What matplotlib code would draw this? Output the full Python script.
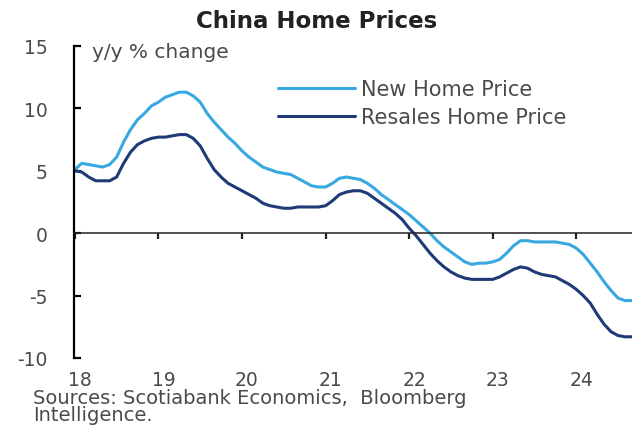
import matplotlib
matplotlib.use("Agg")
import matplotlib.pyplot as plt
import numpy as np
from matplotlib.transforms import ScaledTranslation

plt.rcParams['font.family'] = ['DejaVu Sans']

# Monthly data, Jan 2018 onward (y/y % change)
new_home = [5.1, 5.6, 5.5, 5.4, 5.3, 5.5, 6.1, 7.3, 8.3, 9.1, 9.6, 10.2,
            10.5, 10.9, 11.1, 11.3, 11.3, 11.0, 10.5, 9.6, 8.9, 8.3, 7.7, 7.2,
            6.6, 6.1, 5.7, 5.3, 5.1, 4.9, 4.8, 4.7, 4.4, 4.1, 3.8, 3.7,
            3.7, 4.0, 4.4, 4.5, 4.4, 4.3, 4.0, 3.6, 3.1, 2.7, 2.3, 1.9,
            1.5, 1.0, 0.5, 0.0, -0.6, -1.1, -1.5, -1.9, -2.3, -2.5, -2.4, -2.4,
            -2.3, -2.1, -1.6, -1.0, -0.6, -0.6, -0.7, -0.7, -0.7, -0.7, -0.8, -0.9,
            -1.2, -1.7, -2.4, -3.1, -3.9, -4.6, -5.2, -5.4, -5.4]
resale_home = [5.0, 4.9, 4.5, 4.2, 4.2, 4.2, 4.5, 5.6, 6.5, 7.1, 7.4, 7.6,
               7.7, 7.7, 7.8, 7.9, 7.9, 7.6, 7.0, 6.0, 5.1, 4.5, 4.0, 3.7,
               3.4, 3.1, 2.8, 2.4, 2.2, 2.1, 2.0, 2.0, 2.1, 2.1, 2.1, 2.1,
               2.2, 2.6, 3.1, 3.3, 3.4, 3.4, 3.2, 2.8, 2.4, 2.0, 1.6, 1.1,
               0.4, -0.2, -0.9, -1.6, -2.2, -2.7, -3.1, -3.4, -3.6, -3.7, -3.7, -3.7,
               -3.7, -3.5, -3.2, -2.9, -2.7, -2.8, -3.1, -3.3, -3.4, -3.5, -3.8, -4.1,
               -4.5, -5.0, -5.6, -6.5, -7.3, -7.9, -8.2, -8.3, -8.3]
start_year = 18
x_ticks = [18, 19, 20, 21, 22, 23, 24]
x_labels = ["18", "19", "20", "21", "22", "23", "24"]
y_ticks = [-10, -5, 0, 5, 10, 15]
series_names = ["New Home Price", "Resales Home Price"]

t = start_year + np.arange(len(new_home)) / 12.0

light = "#38A8E0"
dark = "#1F3A76"
txt = "#4a4a4a"

fig = plt.figure(figsize=(6.32, 4.27), dpi=100)
ax = fig.add_axes([74/632, 1 - 359/427, (632 - 74)/632, (359 - 47)/427])

ax.plot(t, new_home, color=light, lw=2.2, label=series_names[0], solid_capstyle='round')
ax.plot(t, resale_home, color=dark, lw=2.2, label=series_names[1], solid_capstyle='round')

ax.set_xlim(start_year - 0.01, t[-1])
ax.set_ylim(-10, 15)

for s in ['top', 'right']:
    ax.spines[s].set_visible(False)
ax.spines['left'].set_linewidth(1.6)
ax.spines['left'].set_color('black')
ax.spines['bottom'].set_position(('data', 0))
ax.spines['bottom'].set_linewidth(1.1)
ax.spines['bottom'].set_color('#222222')

ax.set_yticks(y_ticks)
ax.set_yticklabels([str(v) for v in y_ticks])
ax.tick_params(axis='y', direction='in', length=5, width=1.6, color='black',
               labelsize=13.5, labelcolor=txt, pad=19)
ax.set_xticks(x_ticks)
ax.tick_params(axis='x', direction='out', length=4, width=1.6, color='#222222',
               labelbottom=False)

sec = ax.secondary_xaxis(0.0)
sec.set_xticks(x_ticks)
sec.set_xticklabels(x_labels)
sec.spines['bottom'].set_visible(False)
sec.tick_params(axis='x', length=0, labelsize=13.5, labelcolor=txt, pad=9)
for lab in sec.get_xticklabels():
    lab.set_transform(lab.get_transform() + ScaledTranslation(5/100, 0, fig.dpi_scale_trans))

fig.text(317/632, 1 - 21/427, "China Home Prices", ha='center', va='center',
         fontsize=16.5, fontweight='bold', color='#222222')
fig.text(92/632, 1 - 53/427, "y/y % change", ha='left', va='center',
         fontsize=14.5, color=txt)

leg = ax.legend(loc='upper left', bbox_to_anchor=(278/632, 1 - 80/427),
                bbox_transform=fig.transFigure, frameon=False, fontsize=15,
                handlelength=3.7, handletextpad=0.3, labelspacing=0.4,
                borderpad=0, borderaxespad=0)
for tx in leg.get_texts():
    tx.set_color(txt)

fig.text(33/632, 2/427,
         "Sources: Scotiabank Economics,  Bloomberg\nIntelligence.",
         ha='left', va='bottom', fontsize=14, color=txt, linespacing=0.85)

fig.savefig("out.png", dpi=100)
